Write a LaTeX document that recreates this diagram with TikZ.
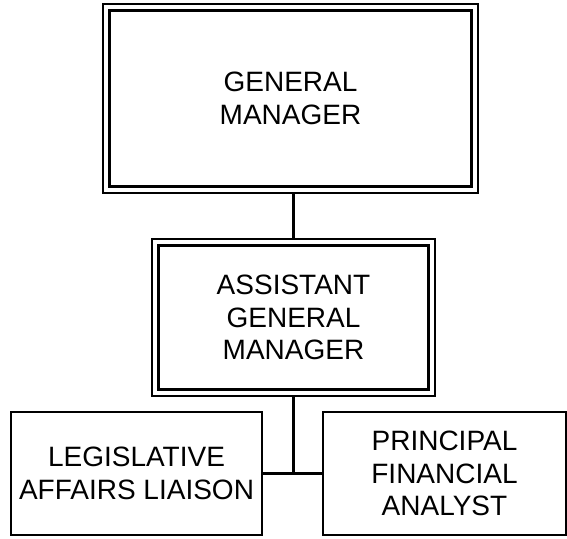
\documentclass[tikz,border=0pt]{standalone}
\usepackage{fontspec}
\setmainfont{Liberation Sans}
\usetikzlibrary{backgrounds}
\tikzset{
  dbox/.style={draw, double, double distance=4.3pt, line width=2.2pt, inner sep=0pt, outer sep=0pt, align=center, font=\fontsize{28}{32.5}\selectfont},
  sbox/.style={draw, line width=2.2pt, inner sep=0pt, outer sep=0pt, align=center, font=\fontsize{28}{32.5}\selectfont},
  conn/.style={line width=2.4pt}
}
\begin{document}
\begin{tikzpicture}[x=1pt,y=-1pt]
\useasboundingbox (0,0) rectangle (567,538);
\node[dbox, minimum width=368.5pt, minimum height=182.5pt] (gm) at (290.5,98.5) {GENERAL\\MANAGER};
\node[dbox, minimum width=276.5pt, minimum height=150.5pt] (agm) at (293.5,317.5) {ASSISTANT\\GENERAL\\MANAGER};
\node[sbox, minimum width=251pt, minimum height=123pt] (leg) at (136.5,473.5) {LEGISLATIVE\\AFFAIRS LIAISON};
\node[sbox, minimum width=243pt, minimum height=123pt] (pfa) at (444.5,473.5) {PRINCIPAL\\FINANCIAL\\ANALYST};
\coordinate (j) at (agm.south |- leg.east);
\begin{pgfonlayer}{background}
\draw[conn] (agm.north) -- (agm.north |- gm.south);
\draw[conn] (agm.south) -- (j);
\draw[conn] (leg.east) -- (pfa.west);
\end{pgfonlayer}
\end{tikzpicture}
\end{document}
